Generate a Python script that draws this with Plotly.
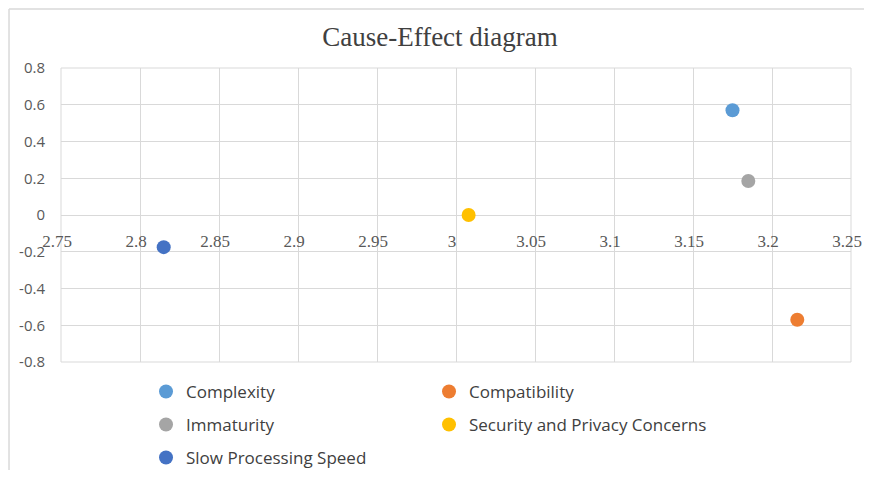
import plotly.graph_objects as go

names = ["Complexity", "Compatibility", "Immaturity", "Security and Privacy Concerns", "Slow Processing Speed"]
x_vals = [3.175, 3.216, 3.185, 3.008, 2.815]
y_vals = [0.57, -0.57, 0.185, 0.0, -0.175]
colors = ["#5B9BD5", "#ED7D31", "#A5A5A5", "#FFC000", "#4472C4"]
legend_ids = ["legend", "legend", "legend2", "legend2", "legend3"]

x_ticks = [2.75, 2.8, 2.85, 2.9, 2.95, 3.0, 3.05, 3.1, 3.15, 3.2, 3.25]
x_tick_labels = ["2.75", "2.8", "2.85", "2.9", "2.95", "3", "3.05", "3.1", "3.15", "3.2", "3.25"]
y_ticks = [-0.8, -0.6, -0.4, -0.2, 0, 0.2, 0.4, 0.6, 0.8]
y_tick_labels = ["-0.8", "-0.6", "-0.4", "-0.2", "0", "0.2", "0.4", "0.6", "0.8"]

fig = go.Figure()
for n, xv, yv, c, lg in zip(names, x_vals, y_vals, colors, legend_ids):
    fig.add_trace(go.Scatter(x=[xv], y=[yv], mode="markers", name=n,
                             marker=dict(color=c, size=14, line=dict(width=0)),
                             legend=lg))

grid = "#D9D9D9"
leg_common = dict(orientation="h", xanchor="left", yanchor="middle",
                  font=dict(family="Open Sans", size=17, color="#404040"),
                  entrywidth=238, entrywidthmode="pixels", itemwidth=30,
                  bgcolor="rgba(0,0,0,0)")
fig.update_layout(
    width=864, height=462,
    margin=dict(l=53, r=21, t=60, b=108, autoexpand=False),
    paper_bgcolor="white", plot_bgcolor="white",
    title=dict(text="Cause-Effect diagram", x=0.5, xanchor="center", y=1 - 29 / 462, yanchor="middle",
               font=dict(family="Liberation Serif", size=27, color="#404040")),
    xaxis=dict(range=[2.75, 3.25], tickvals=x_ticks, ticktext=x_tick_labels,
               showgrid=True, gridcolor=grid, gridwidth=1, zeroline=False,
               showline=False, anchor="free", position=0.5, ticks="",
               ticklabelstandoff=14, ticklabelshift=-4, automargin=False,
               tickfont=dict(family="Liberation Serif", size=17, color="#595959")),
    yaxis=dict(range=[-0.8, 0.8], tickvals=y_ticks, ticktext=y_tick_labels,
               showgrid=True, gridcolor=grid, gridwidth=1, zeroline=True,
               zerolinecolor=grid, zerolinewidth=1, showline=False, ticks="",
               ticklabelstandoff=15, automargin=False,
               tickfont=dict(family="Open Sans", size=15, color="#595959")),
    legend=dict(x=0.1076, y=-0.102, **leg_common),
    legend2=dict(x=0.1076, y=-0.214, **leg_common),
    legend3=dict(x=0.1076, y=-0.3265, **leg_common),
    showlegend=True,
)
# plot-area frame (edge gridlines)
fig.add_shape(type="rect", xref="x domain", yref="y domain", x0=0, x1=1, y0=0, y1=1,
              line=dict(color=grid, width=1), layer="below")
# light outer chart border (top and left edges)
fig.add_shape(type="line", xref="paper", yref="paper", x0=-0.0658, x1=1.04, y0=1.2007, y1=1.2007,
              line=dict(color="#D9D9D9", width=1.5))
fig.add_shape(type="line", xref="paper", yref="paper", x0=-0.0658, x1=-0.0658, y0=1.2007, y1=-0.4,
              line=dict(color="#D9D9D9", width=1.5))
fig.write_html("out.html")
